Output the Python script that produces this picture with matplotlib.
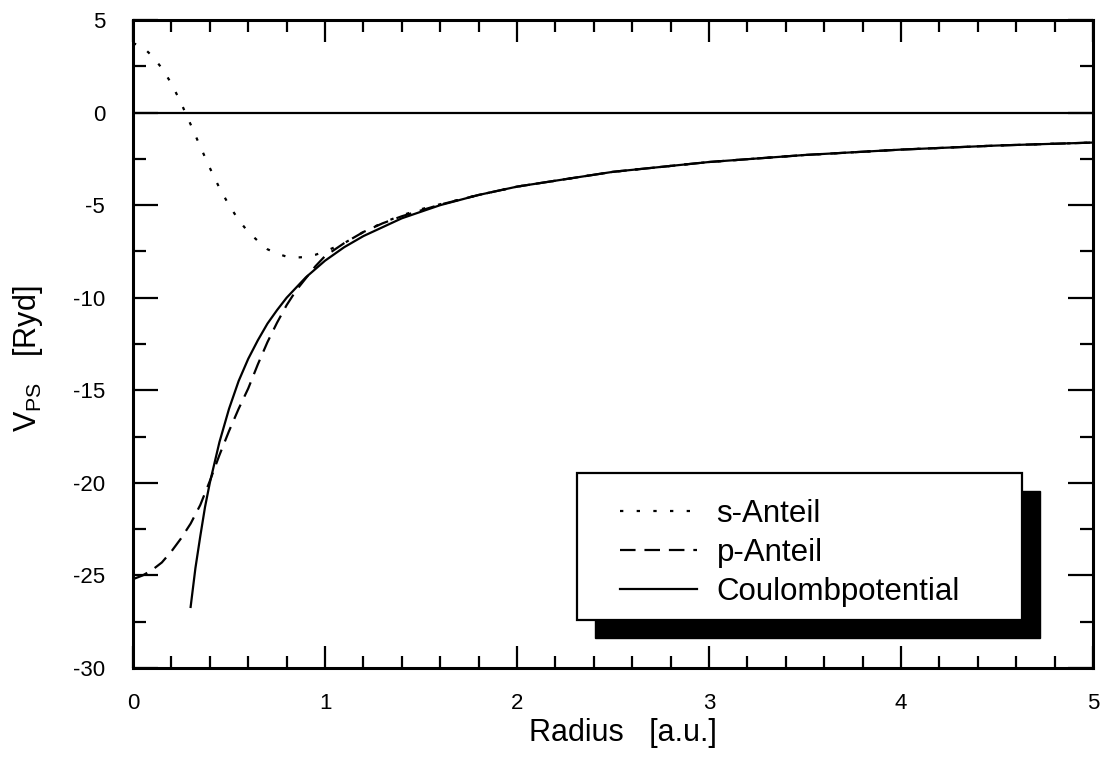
import matplotlib
matplotlib.use("Agg")
import matplotlib.pyplot as plt
from matplotlib.patches import Rectangle

plt.rcParams['font.family'] = ['Liberation Sans', 'DejaVu Sans']
plt.rcParams['mathtext.fontset'] = 'custom'
plt.rcParams['mathtext.rm'] = 'Liberation Sans'
plt.rcParams['mathtext.it'] = 'Liberation Sans'

# values
r_s = [0.0, 0.05, 0.1, 0.15, 0.2, 0.25, 0.3, 0.35, 0.4, 0.45, 0.5, 0.55, 0.6, 0.65, 0.7,
       0.75, 0.8, 0.85, 0.9, 0.95, 1.0, 1.1, 1.2, 1.3, 1.4, 1.5, 1.6, 1.8, 2.0, 2.5,
       3.0, 3.5, 4.0, 4.5, 5.0]
v_s = [3.75, 3.55, 3.05, 2.4, 1.57, 0.52, -0.64, -1.83, -2.99, -4.07, -5.0, -5.8, -6.45,
       -6.93, -7.38, -7.62, -7.78, -7.83, -7.8, -7.68, -7.5, -7.05, -6.45, -5.95, -5.55,
       -5.22, -4.95, -4.45, -4.0, -3.2, -2.67, -2.29, -2.0, -1.78, -1.62]

r_p = [0.0, 0.05, 0.1, 0.15, 0.2, 0.25, 0.3, 0.35, 0.4, 0.45, 0.5, 0.55, 0.6, 0.65, 0.7,
       0.75, 0.8, 0.85, 0.9, 0.95, 1.0, 1.1, 1.2, 1.3, 1.4, 1.6, 1.8, 2.0, 2.5, 3.0,
       3.5, 4.0, 4.5, 5.0]
v_p = [-25.2, -25.0, -24.7, -24.3, -23.7, -23.0, -22.2, -21.2, -19.9, -18.5, -17.2,
       -16.0, -14.9, -13.6, -12.4, -11.35, -10.4, -9.6, -8.95, -8.3, -7.75, -7.05, -6.45,
       -5.98, -5.6, -4.97, -4.45, -4.0, -3.2, -2.67, -2.29, -2.0, -1.78, -1.62]

r_c = [0.3, 0.325, 0.35, 0.375, 0.4, 0.45, 0.5, 0.55, 0.6, 0.65, 0.7, 0.75, 0.8, 0.9,
       1.0, 1.1, 1.2, 1.4, 1.6, 1.8, 2.0, 2.5, 3.0, 3.5, 4.0, 4.5, 5.0]
v_c = [-26.7, -24.6, -22.9, -21.3, -20.0, -17.8, -16.0, -14.5, -13.3, -12.3, -11.4,
       -10.67, -10.0, -8.9, -8.0, -7.27, -6.67, -5.71, -5.0, -4.45, -4.0, -3.2, -2.67,
       -2.29, -2.0, -1.78, -1.62]

labels = ["s-Anteil", "p-Anteil", "Coulombpotential"]

fig = plt.figure(figsize=(11.03, 7.6), dpi=100)
ax = fig.add_axes([0.1206, 0.121, 0.8704, 0.8527])

ax.axhline(0, color='k', lw=1.6)
ax.plot(r_s, v_s, color='k', lw=1.6, linestyle=(0, (1.5, 6)), label=labels[0])
ax.plot(r_p, v_p, color='k', lw=1.6, linestyle=(0, (7, 4)), label=labels[1])
ax.plot(r_c, v_c, color='k', lw=1.6, linestyle='-', label=labels[2])

ax.set_xlim(0, 5)
ax.set_ylim(-30, 5)
ax.set_xticks([0, 1, 2, 3, 4, 5])
ax.set_yticks([-30, -25, -20, -15, -10, -5, 0, 5])
ax.set_xticks([i * 0.2 for i in range(26)], minor=True)
ax.set_yticks([-30 + i * 2.5 for i in range(15)], minor=True)
ax.set_xticklabels(["0", "1", "2", "3", "4", "5"])
ax.set_yticklabels(["-30", "-25", "-20", "-15", "-10", "-5", "0", "5"])

ax.tick_params(which='both', direction='in', top=True, right=True, width=1.6, labelsize=16)
ax.tick_params(axis='x', which='major', length=16, pad=18)
ax.tick_params(axis='x', which='minor', length=8.5)
ax.tick_params(axis='y', which='major', length=18, pad=20)
ax.tick_params(axis='y', which='minor', length=9.5)
for sp in ax.spines.values():
    sp.set_linewidth(2.2)

ax.set_xlabel("Radius   [a.u.]", fontsize=22)
ax.xaxis.set_label_coords(0.51, -0.100)
ax.xaxis.label.set_verticalalignment('center')
ax.set_ylabel("V$_{\\mathrm{PS}}$   [Ryd]", fontsize=22)
ax.yaxis.set_label_coords(-0.109, 0.478)
ax.yaxis.label.set_verticalalignment('center')

# legend box with solid shadow
ax.add_patch(Rectangle((0.481, 0.046), 0.4635, 0.227, transform=ax.transAxes,
                       facecolor='k', edgecolor='k', zorder=4, clip_on=False))
ax.add_patch(Rectangle((0.4625, 0.074), 0.4635, 0.227, transform=ax.transAxes,
                       facecolor='white', edgecolor='k', lw=1.6, zorder=5, clip_on=False))
leg = ax.legend(loc='center left', bbox_to_anchor=(0.507, 0.177), frameon=False,
                fontsize=22.5, handlelength=2.46, handletextpad=0.64, borderpad=0,
                borderaxespad=0, labelspacing=0.29)
leg.set_zorder(6)

fig.savefig("out.png", dpi=100)
